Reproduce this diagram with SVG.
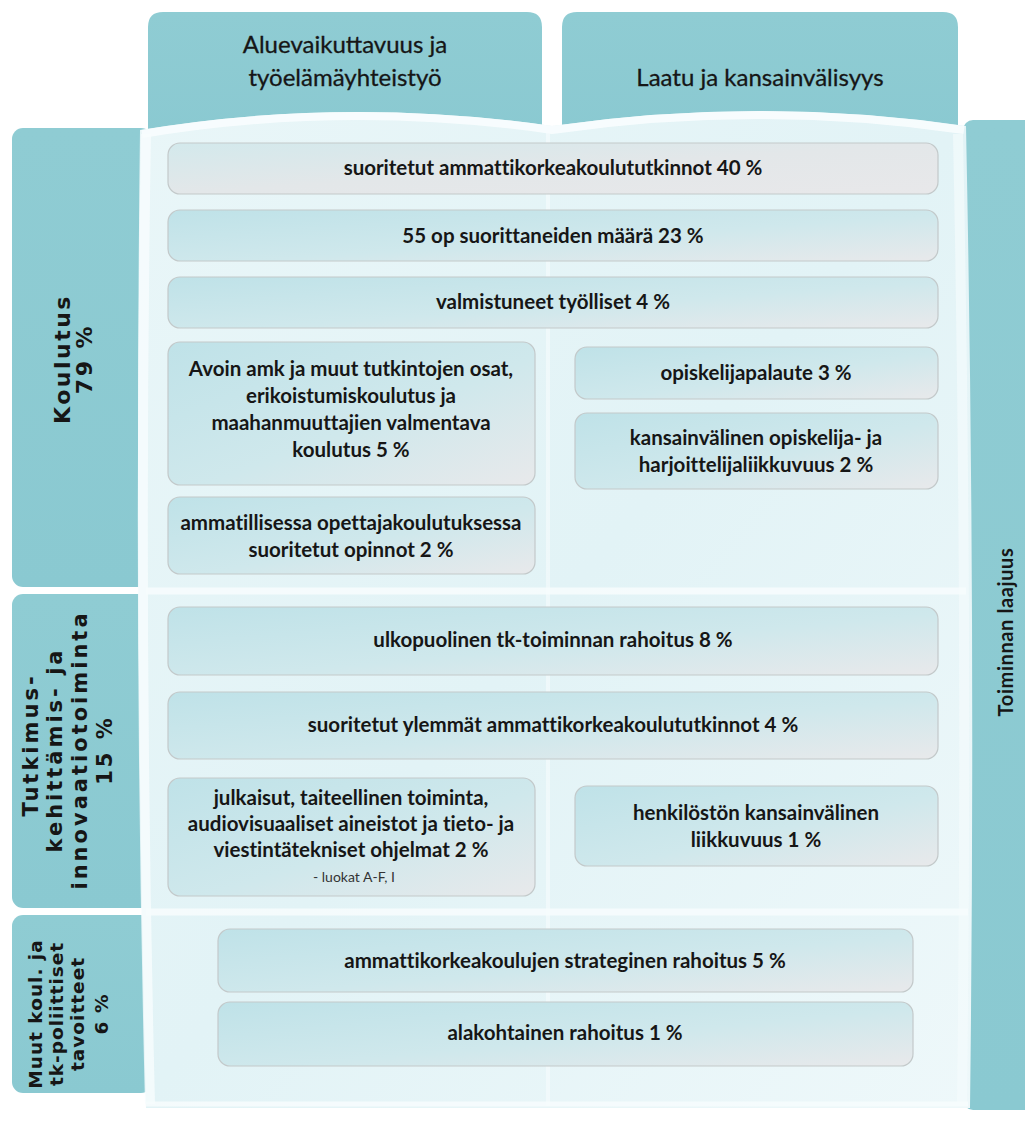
<svg xmlns="http://www.w3.org/2000/svg" width="1025" height="1124" viewBox="0 0 1025 1124">
  <defs>
    <linearGradient id="panelFill" x1="0" y1="0" x2="1" y2="1">
      <stop offset="0" stop-color="#E9F6F8"/>
      <stop offset="0.5" stop-color="#E2F3F6"/>
      <stop offset="1" stop-color="#EEF8FA"/>
    </linearGradient>
    <linearGradient id="boxFill" x1="0" y1="0" x2="1" y2="1">
      <stop offset="0" stop-color="#BFE2E8"/>
      <stop offset="0.55" stop-color="#CFE8EC"/>
      <stop offset="1" stop-color="#E8E9EB"/>
    </linearGradient>
    <linearGradient id="boxFillGrey" x1="0" y1="0" x2="1" y2="1">
      <stop offset="0" stop-color="#D3E9EC"/>
      <stop offset="0.5" stop-color="#E3E7E9"/>
      <stop offset="1" stop-color="#E8E8EA"/>
    </linearGradient>
    <linearGradient id="tabFill" x1="0" y1="0" x2="0" y2="1">
      <stop offset="0" stop-color="#8FCCD3"/>
      <stop offset="1" stop-color="#8AC9D1"/>
    </linearGradient>
    <style>
      .tab { fill: url(#tabFill); }
      .box { fill: url(#boxFill); stroke: #C3C9CA; stroke-width: 1.2; }
      .boxg { fill: url(#boxFillGrey); stroke: #C3C9CA; stroke-width: 1.2; }
      .t { font-family: Lato, "Open Sans", "Liberation Sans", sans-serif; font-weight: 700; font-size: 20.5px; fill: #161616; text-anchor: middle; font-variant-ligatures: none; }
      .small { font-family: Lato, "Open Sans", "Liberation Sans", sans-serif; font-weight: 400; font-size: 14px; fill: #333; text-anchor: middle; }
      .hd { font-family: Lato, "Open Sans", "Liberation Sans", sans-serif; font-weight: 400; font-size: 24px; fill: #161616; text-anchor: middle; stroke: #161616; stroke-width: 0.3px; }
      .side { font-family: "DejaVu Sans", Verdana, sans-serif; font-weight: 700; font-size: 21px; letter-spacing: 3px; fill: #161616; text-anchor: middle; }
      .rside { font-family: Lato, "Open Sans", "Liberation Sans", sans-serif; font-weight: 700; font-size: 20px; letter-spacing: 0.6px; fill: #161616; text-anchor: middle; }
      .sep { stroke: #F6FCFD; stroke-width: 7; fill: none; opacity: 0.9; }
    </style>
  </defs>

  <rect width="1025" height="1124" fill="#FFFFFF"/>

  <!-- column headers -->
  <g id="hdr-alue">
    <path class="tab" d="M148,140 L148,27 Q148,12 163,12 L527,12 Q542,12 542,27 L542,140 Z"/>
    <text class="hd" x="345" y="53">Aluevaikuttavuus ja</text>
    <text class="hd" x="345" y="86">työelämäyhteistyö</text>
  </g>
  <g id="hdr-laatu">
    <path class="tab" d="M562,140 L562,27 Q562,12 577,12 L943,12 Q958,12 958,27 L958,140 Z"/>
    <text class="hd" x="760" y="86">Laatu ja kansainvälisyys</text>
  </g>

  <!-- row headers -->
  <g id="row-koulutus">
    <rect class="tab" x="12" y="128" width="140" height="459" rx="11"/>
    <text class="side" style="font-size:22px;letter-spacing:2.5px" transform="translate(70,359) rotate(-90)">Koulutus</text>
    <text class="side" style="font-size:22px;letter-spacing:2.5px" transform="translate(92,359) rotate(-90)">79 %</text>
  </g>
  <g id="row-tki">
    <rect class="tab" x="12" y="594" width="140" height="314" rx="11"/>
    <text class="side" transform="translate(38,745) rotate(-90)">Tutkimus-</text>
    <text class="side" transform="translate(62,750) rotate(-90)">kehittämis- ja</text>
    <text class="side" transform="translate(87,750) rotate(-90)">innovaatiotoiminta</text>
    <text class="side" transform="translate(112,750) rotate(-90)">15 %</text>
  </g>
  <g id="row-muut">
    <rect class="tab" x="12" y="915" width="140" height="178" rx="11"/>
    <text class="side" style="font-size:18.5px;letter-spacing:1px" transform="translate(42,1014) rotate(-90)">Muut koul. ja</text>
    <text class="side" style="font-size:18.5px;letter-spacing:1px" transform="translate(63,1014) rotate(-90)">tk-poliittiset</text>
    <text class="side" style="font-size:18.5px;letter-spacing:1px" transform="translate(84,1014) rotate(-90)">tavoitteet</text>
    <text class="side" style="font-size:18.5px;letter-spacing:1px" transform="translate(108,1014) rotate(-90)">6 %</text>
  </g>
  <g id="col-laajuus">
    <rect class="tab" x="963" y="120" width="80" height="990" rx="10"/>
    <text class="rside" transform="translate(1013,632) rotate(-90)">Toiminnan laajuus</text>
  </g>

  <!-- light matrix area -->
  <g id="matrix">
    <path d="M140,130 Q345,96 552,126 Q760,96 966,126 Q976,620 970,1108 L146,1108 Q134,620 140,130 Z" fill="url(#panelFill)"/>
    <path d="M142,134 Q345,100 552,130 Q760,100 964,130" fill="none" stroke="#F8FDFE" stroke-width="8" opacity="0.9"/>
    <path d="M146,134 Q138,620 150,1104" fill="none" stroke="#F8FDFE" stroke-width="10" opacity="0.8"/>
    <path d="M958,134 Q968,620 962,1104" fill="none" stroke="#F4FBFC" stroke-width="10" opacity="0.7"/>
    <line class="sep" x1="548" y1="128" x2="548" y2="1106" style="stroke-width:4;opacity:0.6"/>
    <line class="sep" x1="146" y1="591" x2="966" y2="591"/>
    <line class="sep" x1="146" y1="912" x2="968" y2="912"/>
    <line class="sep" x1="146" y1="1104" x2="968" y2="1104" style="stroke-width:5"/>
  </g>

  <!-- indicator boxes -->
  <g id="n-tutkinnot">
    <rect class="boxg" x="168" y="143" width="770" height="51" rx="12"/>
    <text class="t" x="553" y="175">suoritetut ammattikorkeakoulututkinnot 40 %</text>
  </g>
  <g id="n-55op">
    <rect class="box" x="168" y="210" width="770" height="51" rx="12"/>
    <text class="t" x="553" y="243">55 op suorittaneiden määrä 23 %</text>
  </g>
  <g id="n-tyolliset">
    <rect class="box" x="168" y="277" width="770" height="51" rx="12"/>
    <text class="t" x="553" y="309">valmistuneet työlliset 4 %</text>
  </g>
  <g id="n-avoin">
    <rect class="box" x="168" y="342" width="367" height="143" rx="12"/>
    <text class="t" x="351" y="376">Avoin amk ja muut tutkintojen osat,</text>
    <text class="t" x="351" y="403">erikoistumiskoulutus ja</text>
    <text class="t" x="351" y="430">maahanmuuttajien valmentava</text>
    <text class="t" x="351" y="457">koulutus 5 %</text>
  </g>
  <g id="n-opettaja">
    <rect class="box" x="168" y="497" width="367" height="77" rx="12"/>
    <text class="t" x="351" y="530">ammatillisessa opettajakoulutuksessa</text>
    <text class="t" x="351" y="557">suoritetut opinnot 2 %</text>
  </g>
  <g id="n-palaute">
    <rect class="box" x="575" y="347" width="363" height="52" rx="12"/>
    <text class="t" x="756" y="380">opiskelijapalaute 3 %</text>
  </g>
  <g id="n-liikkuvuus">
    <rect class="box" x="575" y="413" width="363" height="76" rx="12"/>
    <text class="t" x="756" y="445">kansainvälinen opiskelija- ja</text>
    <text class="t" x="756" y="472">harjoittelijaliikkuvuus 2 %</text>
  </g>
  <g id="n-tkrahoitus">
    <rect class="box" x="168" y="607" width="770" height="68" rx="12"/>
    <text class="t" x="553" y="647">ulkopuolinen tk-toiminnan rahoitus 8 %</text>
  </g>
  <g id="n-ylemmat">
    <rect class="box" x="168" y="692" width="770" height="67" rx="12"/>
    <text class="t" x="553" y="732">suoritetut ylemmät ammattikorkeakoulututkinnot 4 %</text>
  </g>
  <g id="n-julkaisut">
    <rect class="box" x="168" y="778" width="367" height="118" rx="12"/>
    <text class="t" x="351" y="805">julkaisut, taiteellinen toiminta,</text>
    <text class="t" x="351" y="831">audiovisuaaliset aineistot ja tieto- ja</text>
    <text class="t" x="351" y="857">viestintätekniset ohjelmat 2 %</text>
    <text class="small" x="354" y="882">- luokat A-F, I</text>
  </g>
  <g id="n-henkilosto">
    <rect class="box" x="575" y="786" width="363" height="80" rx="12"/>
    <text class="t" x="756" y="820">henkilöstön kansainvälinen</text>
    <text class="t" x="756" y="847">liikkuvuus 1 %</text>
  </g>
  <g id="n-strateginen">
    <rect class="box" x="218" y="929" width="695" height="63" rx="12"/>
    <text class="t" x="565" y="968">ammattikorkeakoulujen strateginen rahoitus 5 %</text>
  </g>
  <g id="n-alakohtainen">
    <rect class="box" x="218" y="1002" width="695" height="64" rx="12"/>
    <text class="t" x="565" y="1040">alakohtainen rahoitus 1 %</text>
  </g>

  <g id="connectors"/>
</svg>
